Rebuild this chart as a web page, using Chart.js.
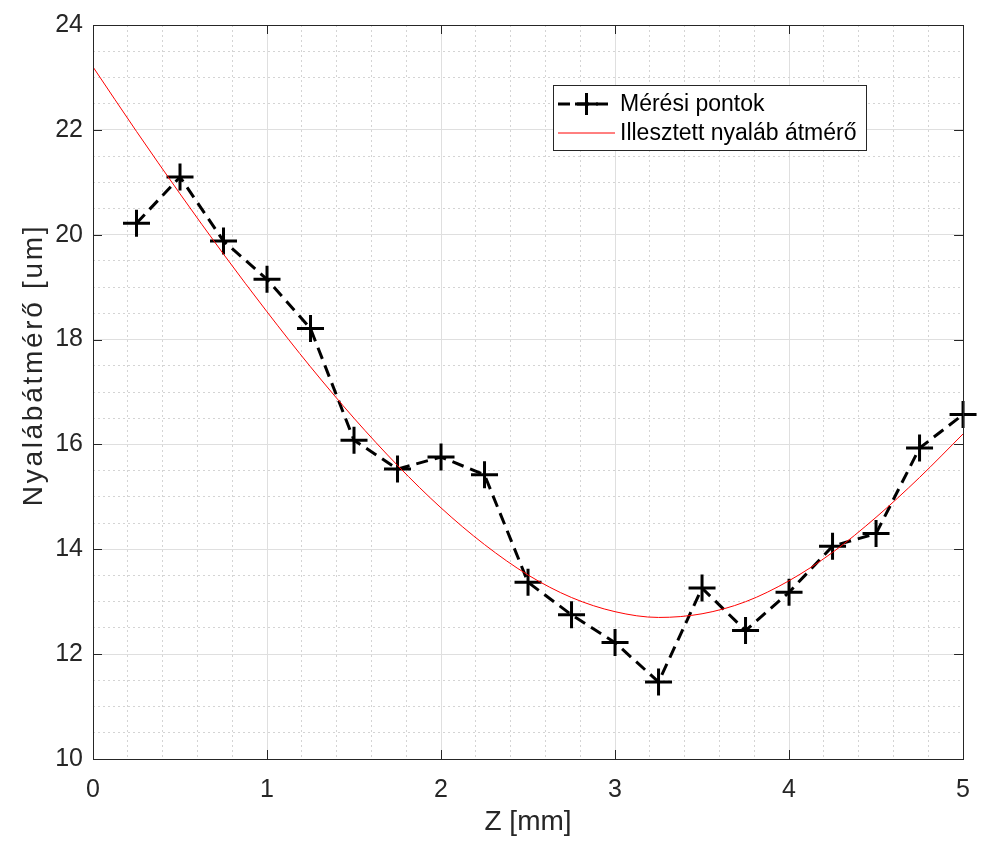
<!DOCTYPE html>
<html>
<head>
<meta charset="utf-8">
<script src="https://cdn.jsdelivr.net/npm/chart.js@4"></script>
<style>
html, body { margin: 0; padding: 0; background: #fff; }
</style>
</head>
<body>
<canvas id="myChart" width="986" height="844"></canvas>
<script>
// measured beam diameter
var zPoints = [0.25, 0.5, 0.75, 1, 1.25, 1.5, 1.75, 2, 2.25, 2.5, 2.75, 3, 3.25, 3.5, 3.75, 4, 4.25, 4.5, 4.75, 5];
var measured = [20.22, 21.10, 19.88, 19.15, 18.21, 16.08, 15.53, 15.76, 15.42, 13.37, 12.75, 12.22, 11.47, 13.26, 12.45, 13.18, 14.06, 14.30, 15.93, 16.57];

// fitted curve
var fitZ = [0, 0.25, 0.5, 0.75, 1, 1.25, 1.5, 1.75, 2, 2.25, 2.5, 2.75, 3, 3.25, 3.5, 3.75, 4, 4.25, 4.5, 4.75, 5];
var fitD = [23.2, 21.97, 20.78, 19.63, 18.53, 17.48, 16.50, 15.60, 14.79, 14.09, 13.51, 13.08, 12.81, 12.70, 12.77, 13.00, 13.40, 13.94, 14.61, 15.37, 16.2];

var seriesNames = ["Mérési pontok", "Illesztett nyaláb átmérő"];
var xTitle = "Z [mm]";
var yTitle = "Nyalábátmérő [um]";
var xRange = [0, 5];
var yRange = [10, 24];

const axisColor = "#262626";
const fontFamily = "'Liberation Sans', Arial, Helvetica, sans-serif";

function isInt(v) { return Math.abs(v - Math.round(v)) < 1e-6; }
function xMajor(v) { return isInt(v); }
function yMajor(v) { return isInt(v) && Math.round(v) % 2 === 0; }

function gridColor(test) {
    return (ctx) => (ctx.tick && test(ctx.tick.value)) ? "#dfdfdf" : "#d4d4d4";
}
function gridDash(test) {
    return (ctx) => (ctx.tick && test(ctx.tick.value)) ? [] : [2, 3];
}

const axesBox = {
    id: "axesBox",
    afterDatasetsDraw(chart) {
        const {ctx, chartArea: a, scales: {x, y}} = chart;
        ctx.save();
        ctx.strokeStyle = axisColor;
        ctx.lineWidth = 1;
        ctx.setLineDash([]);
        ctx.beginPath();
        x.ticks.filter(t => xMajor(t.value)).forEach(t => {
            const px = Math.round(x.getPixelForValue(t.value)) + 0.5;
            ctx.moveTo(px, a.bottom); ctx.lineTo(px, a.bottom - 9);
            ctx.moveTo(px, a.top); ctx.lineTo(px, a.top + 9);
        });
        y.ticks.filter(t => yMajor(t.value)).forEach(t => {
            const py = Math.round(y.getPixelForValue(t.value)) + 0.5;
            ctx.moveTo(a.left, py); ctx.lineTo(a.left + 9, py);
            ctx.moveTo(a.right, py); ctx.lineTo(a.right - 9, py);
        });
        ctx.stroke();
        ctx.strokeRect(Math.round(a.left) + 0.5, Math.round(a.top) + 0.5,
            Math.round(a.right - a.left), Math.round(a.bottom - a.top));
        ctx.restore();
    }
};

// y title drawn by hand: the original is set a little wider than the font
const yAxisTitle = {
    id: "yAxisTitle",
    afterDraw(chart) {
        const ctx = chart.ctx;
        const a = chart.chartArea;
        ctx.save();
        ctx.translate(42, (a.top + a.bottom) / 2 - 27);
        ctx.rotate(-Math.PI / 2);
        ctx.font = "28px " + fontFamily;
        ctx.letterSpacing = "2.7px";
        ctx.fillStyle = axisColor;
        ctx.textAlign = "center";
        ctx.textBaseline = "alphabetic";
        ctx.fillText(yTitle, 0, 0);
        ctx.restore();
    }
};

const boxLegend = {
    id: "boxLegend",
    afterDraw(chart) {
        const ctx = chart.ctx;
        const left = 553, top = 85, w = 313, h = 65;
        ctx.save();
        ctx.fillStyle = "#fff";
        ctx.fillRect(left, top, w, h);
        ctx.strokeStyle = axisColor;
        ctx.lineWidth = 1;
        ctx.strokeRect(left + 0.5, top + 0.5, w, h);
        ctx.font = "23px " + fontFamily;
        ctx.textBaseline = "middle";
        ctx.fillStyle = "#000";
        const rows = [104, 133];
        chart.data.datasets.forEach((ds, i) => {
            const yy = rows[i];
            ctx.beginPath();
            ctx.strokeStyle = ds.borderColor;
            ctx.lineWidth = ds.borderWidth;
            ctx.setLineDash(ds.borderDash || []);
            ctx.moveTo(558, yy);
            ctx.lineTo(615, yy);
            ctx.stroke();
            ctx.setLineDash([]);
            if (ds.pointRadius > 0) {
                ctx.beginPath();
                ctx.lineWidth = ds.pointBorderWidth;
                ctx.moveTo(575, yy); ctx.lineTo(598, yy);
                ctx.moveTo(586.5, yy - 11); ctx.lineTo(586.5, yy + 11);
                ctx.stroke();
            }
            ctx.fillStyle = "#000";
            ctx.fillText(ds.label, 620, yy + 1);
        });
        ctx.restore();
    }
};

new Chart("myChart", {
    type: "scatter",
    data: {
        datasets: [{
            label: seriesNames[0],
            data: zPoints.map((z, i) => ({x: z, y: measured[i]})),
            showLine: true,
            borderColor: "#000",
            borderWidth: 3,
            borderDash: [12, 7],
            pointStyle: "cross",
            pointRadius: 13.5,
            pointBorderWidth: 3,
            pointBorderColor: "#000",
            pointBackgroundColor: "#000",
            tension: 0,
            clip: false,
            order: 1
        }, {
            label: seriesNames[1],
            data: fitZ.map((z, i) => ({x: z, y: fitD[i]})),
            showLine: true,
            borderColor: "#ff0000",
            borderWidth: 1,
            pointRadius: 0,
            cubicInterpolationMode: "monotone",
            order: 0
        }]
    },
    options: {
        responsive: false,
        animation: false,
        layout: {padding: {top: 16, right: 21, left: 0, bottom: 0}},
        plugins: {
            legend: {display: false},
            tooltip: {enabled: false}
        },
        scales: {
            x: {
                type: "linear",
                min: xRange[0], max: xRange[1],
                afterFit: s => { s.height = 85; },
                ticks: {
                    stepSize: 0.2,
                    autoSkip: false,
                    maxRotation: 0,
                    padding: 16,
                    color: axisColor,
                    font: {family: fontFamily, size: 25},
                    callback: v => xMajor(v) ? String(Math.round(v)) : ""
                },
                grid: {color: gridColor(xMajor), lineWidth: 1, drawTicks: false},
                border: {display: false, dash: gridDash(xMajor)},
                title: {
                    display: true, text: xTitle, color: axisColor,
                    font: {family: fontFamily, size: 28},
                    padding: {top: 0, bottom: 5}
                }
            },
            y: {
                type: "linear",
                min: yRange[0], max: yRange[1],
                afterFit: s => { s.width = 93; },
                ticks: {
                    stepSize: 0.5,
                    autoSkip: false,
                    padding: 10,
                    color: axisColor,
                    font: {family: fontFamily, size: 25},
                    callback: v => yMajor(v) ? String(Math.round(v)) : ""
                },
                grid: {color: gridColor(yMajor), lineWidth: 1, drawTicks: false},
                border: {display: false, dash: gridDash(yMajor)},
                title: {display: false}
            }
        }
    },
    plugins: [axesBox, yAxisTitle, boxLegend]
});
</script>
</body>
</html>
